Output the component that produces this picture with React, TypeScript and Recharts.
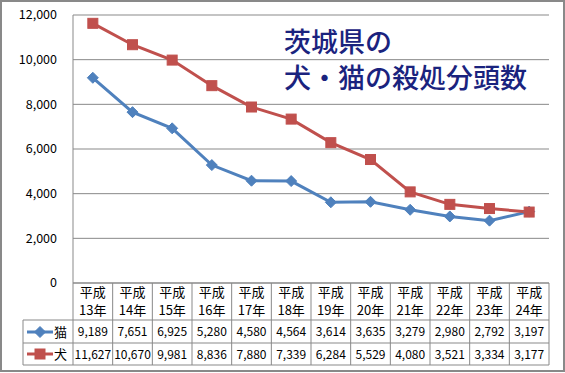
import { LineChart, Line, XAxis, YAxis, CartesianGrid } from 'recharts'

const years = ['13年', '14年', '15年', '16年', '17年', '18年', '19年', '20年', '21年', '22年', '23年', '24年']
const cats = [9189, 7651, 6925, 5280, 4580, 4564, 3614, 3635, 3279, 2980, 2792, 3197]
const dogs = [11627, 10670, 9981, 8836, 7880, 7339, 6284, 5529, 4080, 3521, 3334, 3177]
const yTicks = [0, 2000, 4000, 6000, 8000, 10000, 12000]

const data = years.map((y, i) => ({ year: y, cat: cats[i], dog: dogs[i] }))

const BLUE = '#4F81BD'
const RED = '#C0504D'
const GRID = '#898989'
const FONT = '"Noto Sans CJK JP", "Noto Sans", sans-serif'

const W = 565
const H = 373
const LEFT = 73
const RIGHT = 549
const TOP = 15
const AXIS_Y = 283
const HEAD_B = 320
const ROW1_B = 343
const ROW2_B = 365
const LEGEND_L = 23

const fmt = (v: number) => v.toLocaleString('en-US')

const Diamond = ({ cx, cy }: any) => (
  <path d={`M${cx},${cy - 5.5}L${cx + 5.5},${cy}L${cx},${cy + 5.5}L${cx - 5.5},${cy}Z`} fill={BLUE} stroke={BLUE} />
)

const Square = ({ cx, cy }: any) => (
  <rect x={cx - 5} y={cy - 5} width={10} height={10} fill={RED} stroke={RED} />
)

// each x tick draws one column of the data table underneath the plot
const TableTick = ({ x, index }: any) => {
  const colW = (RIGHT - LEFT) / years.length
  const left = LEFT + colW * index
  const right = left + colW
  return (
    <g>
      <line x1={right} y1={AXIS_Y} x2={right} y2={ROW2_B} stroke={GRID} />
      <text x={x} y={297} textAnchor="middle" fontSize={13} fontFamily={FONT} fill="#000">平成</text>
      <text x={x} y={315} textAnchor="middle" fontSize={13} fontFamily={FONT} fill="#000">{years[index]}</text>
      <text x={x} y={336} textAnchor="middle" fontSize={12} fontFamily={FONT} fill="#000">{fmt(cats[index])}</text>
      <text x={x} y={359} textAnchor="middle" fontSize={12} fontFamily={FONT} fill="#000">{fmt(dogs[index])}</text>
      {index === 0 && (
        <g>
          <line x1={LEFT} y1={AXIS_Y} x2={LEFT} y2={ROW2_B} stroke={GRID} />
          <line x1={LEGEND_L} y1={HEAD_B} x2={RIGHT} y2={HEAD_B} stroke={GRID} />
          <line x1={LEGEND_L} y1={ROW1_B} x2={RIGHT} y2={ROW1_B} stroke={GRID} />
          <line x1={LEGEND_L} y1={ROW2_B} x2={RIGHT} y2={ROW2_B} stroke={GRID} />
          <line x1={LEGEND_L} y1={HEAD_B} x2={LEGEND_L} y2={ROW2_B} stroke={GRID} />
          <line x1={27} y1={332} x2={53} y2={332} stroke={BLUE} strokeWidth={3} />
          <Diamond cx={40} cy={332} />
          <text x={54} y={337} fontSize={13} fontFamily={FONT} fill="#000">猫</text>
          <line x1={27} y1={354} x2={53} y2={354} stroke={RED} strokeWidth={3} />
          <Square cx={40} cy={354} />
          <text x={54} y={359} fontSize={13} fontFamily={FONT} fill="#000">犬</text>
        </g>
      )}
    </g>
  )
}

export default function App() {
  return (
    <div style={{ position: 'absolute', left: 0, top: 0, width: W, height: H, background: '#fff' }}>
      <div
        style={{
          position: 'absolute', left: 0, top: 0, width: W, height: H - 1,
          boxSizing: 'border-box', border: `2px solid ${GRID}`, pointerEvents: 'none',
        }}
      />
      <LineChart width={W} height={H} data={data} margin={{ top: TOP, right: W - RIGHT, left: 0, bottom: 0 }}>
        <CartesianGrid vertical={false} stroke={GRID} strokeWidth={1} />
        <XAxis
          dataKey="year"
          scale="band"
          height={H - AXIS_Y}
          axisLine={{ stroke: GRID }}
          tickLine={false}
          interval={0}
          tick={<TableTick />}
        />
        <YAxis
          width={LEFT}
          domain={[0, 12000]}
          ticks={yTicks}
          tickFormatter={fmt}
          axisLine={{ stroke: GRID }}
          tickLine={false}
          tickMargin={10}
          tick={{ fontSize: 12.5, fontFamily: FONT, fill: '#000' }}
        />
        <Line dataKey="cat" stroke={BLUE} strokeWidth={3} dot={<Diamond />} isAnimationActive={false} />
        <Line dataKey="dog" stroke={RED} strokeWidth={3} dot={<Square />} isAnimationActive={false} />
      </LineChart>
      <div
        style={{
          position: 'absolute', left: 284, top: 23, color: '#1A237E',
          fontFamily: FONT, fontSize: 27, fontWeight: 500, lineHeight: '36px', whiteSpace: 'nowrap',
        }}
      >
        茨城県の<br />犬・猫の殺処分頭数
      </div>
    </div>
  )
}
